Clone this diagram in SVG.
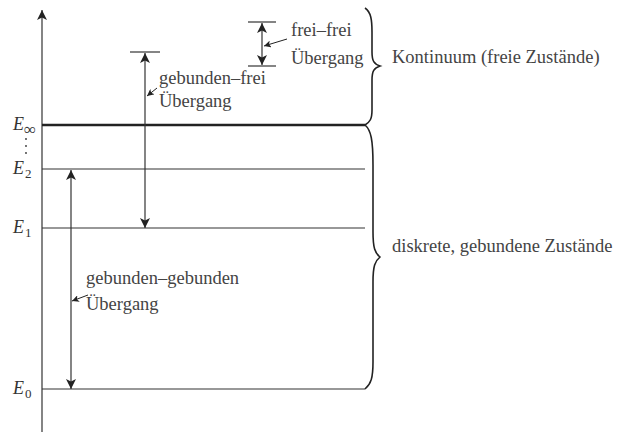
<svg xmlns="http://www.w3.org/2000/svg" width="618" height="432" viewBox="0 0 618 432">
<style>
text{font-family:'Liberation Serif','DejaVu Serif','Times New Roman',serif}
.t{font-size:18.5px;fill:#444}
.m{font-style:italic;font-size:18px;fill:#333}
.s{font-size:13px;fill:#333}
.ln{stroke:#333;stroke-width:1.2;fill:none}
.br{stroke:#222;stroke-width:1.6;fill:none}
</style>
<defs>
<marker id="ah" viewBox="0 0 10 10" refX="10" refY="5" markerWidth="10" markerHeight="10" markerUnits="userSpaceOnUse" orient="auto-start-reverse">
<path d="M0,0 L10,5 L0,10 L2.5,5 Z" fill="#222"/>
</marker>
<marker id="sh" viewBox="0 0 10 10" refX="10" refY="5" markerWidth="7" markerHeight="7" markerUnits="userSpaceOnUse" orient="auto">
<path d="M0,0 L10,5 L0,10 L2.5,5 Z" fill="#222"/>
</marker>
</defs>
<g id="axis">
<line x1="42" y1="432" x2="42" y2="10" class="ln" marker-end="url(#ah)"/>
</g>
<g id="levels">
<line x1="42" y1="125" x2="365" y2="125" stroke="#222" stroke-width="2.6"/>
<line x1="42" y1="169" x2="365" y2="169" class="ln"/>
<line x1="42" y1="228" x2="365" y2="228" class="ln"/>
<line x1="42" y1="389" x2="365" y2="389" class="ln"/>
</g>
<g id="labels">
<text x="13" y="130" class="m">E</text><text x="24" y="135" class="s" style="font-size:17px">∞</text>
<circle cx="26" cy="139" r="0.9" fill="#333"/>
<circle cx="26" cy="146" r="0.9" fill="#333"/>
<circle cx="26" cy="153" r="0.9" fill="#333"/>
<text x="13" y="174" class="m">E</text><text x="25" y="178" class="s">2</text>
<text x="13" y="233" class="m">E</text><text x="25" y="237" class="s">1</text>
<text x="13" y="394" class="m">E</text><text x="25" y="398" class="s">0</text>
</g>
<g id="bound-free">
<line x1="130" y1="52" x2="160" y2="52" class="ln"/>
<line x1="145" y1="53" x2="145" y2="228" class="ln" marker-start="url(#ah)" marker-end="url(#ah)"/>
<text x="159" y="84" class="t">gebunden–frei</text>
<text x="159" y="107" class="t">Übergang</text>
<line x1="157" y1="88" x2="147" y2="96" stroke="#222" stroke-width="1" marker-end="url(#sh)"/>
</g>
<g id="free-free">
<line x1="248" y1="22" x2="276" y2="22" class="ln"/>
<line x1="248" y1="66" x2="276" y2="66" class="ln"/>
<line x1="262" y1="23" x2="262" y2="65" class="ln" marker-start="url(#ah)" marker-end="url(#ah)"/>
<text x="291" y="36" class="t">frei–frei</text>
<text x="291" y="64" class="t">Übergang</text>
<line x1="287" y1="39" x2="264" y2="46" stroke="#222" stroke-width="1" marker-end="url(#sh)"/>
</g>
<g id="bound-bound">
<line x1="71" y1="170" x2="71" y2="389" class="ln" marker-start="url(#ah)" marker-end="url(#ah)"/>
<text x="86" y="284" class="t">gebunden–gebunden</text>
<text x="86" y="310" class="t">Übergang</text>
<line x1="88" y1="295" x2="72" y2="301" stroke="#222" stroke-width="1" marker-end="url(#sh)"/>
</g>
<g id="continuum">
<path class="br" d="M365,8 C371,12 372,20 372,32 L372,52 C372,61 374,64 380,66 C374,68 372,71 372,80 L372,110 C372,119 370,122 365,125"/>
<text x="392" y="63" class="t">Kontinuum (freie Zustände)</text>
</g>
<g id="discrete">
<path class="br" d="M365,125 C371,130 373,140 373,165 L373,232 C373,248 375,253 380,257 C375,261 373,266 373,282 L373,362 C373,378 371,384 365,389"/>
<text x="392" y="252" class="t">diskrete, gebundene Zustände</text>
</g>
</svg>
